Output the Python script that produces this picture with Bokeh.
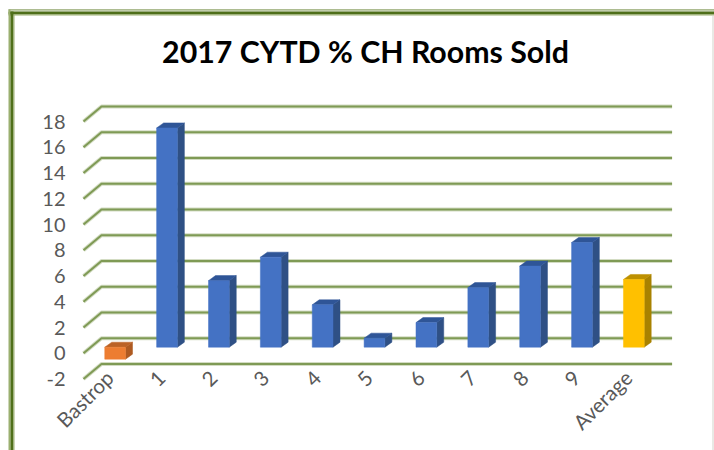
from math import pi
from bokeh.plotting import figure
from bokeh.models import LinearAxis, FixedTicker, Range1d, Label, BoxAnnotation
from bokeh.embed import file_html
from bokeh.resources import INLINE

categories = ["Bastrop", "1", "2", "3", "4", "5", "6", "7", "8", "9", "Average"]
values = [-0.93, 17.03, 5.17, 6.99, 3.29, 0.70, 1.91, 4.63, 6.3, 8.13, 5.26]
front_colors = ["#ed7d31"] + ["#4472c4"] * 9 + ["#ffc000"]
side_colors = ["#ae5a21"] + ["#2f5085"] * 9 + ["#a98200"]
top_colors = ["#bb6226"] + ["#2f5597"] * 9 + ["#bd9000"]
y_ticks = list(range(-2, 20, 2))
title_text = "2017 CYTD % CH Rooms Sold"

W, H = 714, 450
GRID_DX, GRID_DY = 0.347, 1.165   # depth of the floor in data units
BAR_DX0, BAR_DY0 = 0.11, 0.47     # where a bar's front face sits in depth
BAR_DX, BAR_DY = 0.135, 0.39      # depth of a bar
HALF = 0.2
TEXT = "#595959"
FONT = "Lato"

p = figure(width=W, height=H, output_backend="svg", toolbar_location=None,
           x_range=Range1d(-2.1, 11.665), y_range=Range1d(-7.553, 27.398),
           x_axis_type=None, y_axis_type=None,
           min_border=0, min_border_left=0, min_border_right=0,
           min_border_top=0, min_border_bottom=0, outline_line_color=None)
p.grid.visible = False

# gridlines on the wall and floor
xs, ys = [], []
for t in y_ticks:
    xs.append([-0.5, -0.5 + GRID_DX, 10.5 + GRID_DX])
    ys.append([t, t + GRID_DY, t + GRID_DY])
p.multi_line(xs, ys, line_color="#d3dcc3", line_width=4)
p.multi_line(xs, ys, line_color="#7f9a55", line_width=2)

# bars
lefts = [i + BAR_DX0 - HALF for i in range(len(values))]
rights = [i + BAR_DX0 + HALF for i in range(len(values))]
his = [max(v, 0) + BAR_DY0 for v in values]
los = [min(v, 0) + BAR_DY0 for v in values]
side_x = [[r, r + BAR_DX, r + BAR_DX, r] for r in rights]
side_y = [[lo, lo + BAR_DY, hi + BAR_DY, hi] for lo, hi in zip(los, his)]
top_x = [[l, l + BAR_DX, r + BAR_DX, r] for l, r in zip(lefts, rights)]
top_y = [[hi, hi + BAR_DY, hi + BAR_DY, hi] for hi in his]
p.patches(side_x, side_y, fill_color=side_colors, line_color=side_colors, line_width=0.5)
p.patches(top_x, top_y, fill_color=top_colors, line_color=top_colors, line_width=0.5)
p.quad(left=lefts, right=rights, top=his, bottom=los, fill_color=front_colors,
       line_color=front_colors, line_width=0.5)

# axes
ya = LinearAxis(fixed_location=-0.5, ticker=FixedTicker(ticks=y_ticks),
                major_label_overrides={t: str(t) for t in y_ticks},
                axis_line_color=None, major_tick_line_color=None, minor_tick_line_color=None,
                major_label_text_color=TEXT, major_label_text_font=FONT,
                major_label_text_font_size="20px", major_label_standoff=12)
p.add_layout(ya, "left")
xa = LinearAxis(fixed_location=-2, ticker=FixedTicker(ticks=list(range(len(categories)))),
                major_label_overrides={i: c for i, c in enumerate(categories)},
                major_label_orientation=pi / 4,
                axis_line_color=None, major_tick_line_color=None, minor_tick_line_color=None,
                major_label_text_color=TEXT, major_label_text_font=FONT,
                major_label_text_font_size="20.5px", major_label_standoff=-11)
p.add_layout(xa, "below")

# title
p.add_layout(Label(x=365, y=H - 50, x_units="screen", y_units="screen",
                   text=title_text, text_align="center", text_baseline="middle",
                   text_font=FONT, text_font_style="bold", text_font_size="30.3px",
                   text_color="#000000"))

# chart frame
def band(l, r, t, b, c):
    p.add_layout(BoxAnnotation(left=l, right=r, top=t, bottom=b, left_units="canvas",
                               right_units="canvas", top_units="canvas", bottom_units="canvas",
                               fill_color=c, fill_alpha=1, line_color=None))
band(8, W, 9, 10, "#5c7a25")
band(8, W, 10, 11, "#d5dec5")
band(8, W, 11, 14, "#4f6f1a")
band(8, W, 14, 15, "#9bb070")
band(8, 10, 9, H, "#9bb070")
band(10, 13, 11, H, "#4f6f1a")
band(13, 14, 14, H, "#9bb070")
band(W - 2, W - 1, 15, H, "#d4d4cc")

open("out.html", "w").write(file_html(p, INLINE))
